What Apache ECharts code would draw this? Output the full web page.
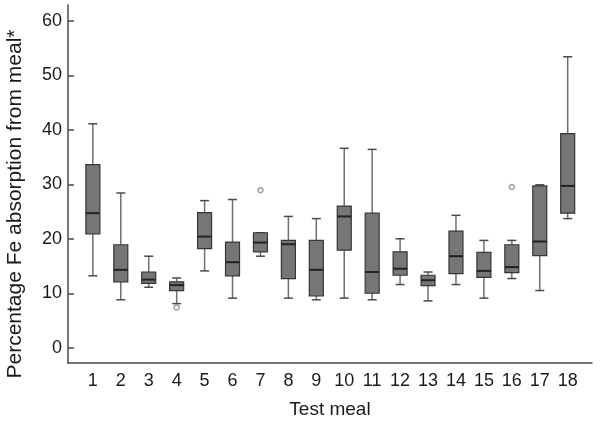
<!DOCTYPE html>
<html>
<head>
<meta charset="utf-8">
<script src="https://cdn.jsdelivr.net/npm/echarts@6/dist/echarts.min.js"></script>
<style>html,body{margin:0;padding:0;background:#fff;}#c{width:601px;height:423px;}</style>
</head>
<body>
<div id="c"></div>
<script>
var meals   = [1,2,3,4,5,6,7,8,9,10,11,12,13,14,15,16,17,18];
var mins    = [13.2, 8.8, 11.1, 8.1, 14.1, 9.1, 16.8, 9.1, 8.8, 9.1, 8.8, 11.6, 8.6, 11.6, 9.1, 12.7, 10.5, 23.7];
var q1s     = [20.9, 12.1, 11.8, 10.5, 18.2, 13.2, 17.6, 12.7, 9.5, 17.9, 10.0, 13.3, 11.4, 13.6, 12.9, 13.8, 16.9, 24.7];
var medians = [24.7, 14.3, 12.5, 11.5, 20.4, 15.7, 19.3, 19.0, 14.3, 24.1, 13.9, 14.5, 12.4, 16.8, 14.1, 14.8, 19.5, 29.7];
var q3s     = [33.6, 18.9, 13.9, 12.1, 24.8, 19.4, 21.1, 19.7, 19.7, 26.0, 24.7, 17.6, 13.3, 21.4, 17.5, 18.9, 29.7, 39.3];
var maxs    = [41.1, 28.4, 16.8, 12.8, 27.0, 27.2, 21.1, 24.1, 23.7, 36.6, 36.4, 20.0, 13.9, 24.3, 19.7, 19.7, 29.9, 53.4];
var outlierMeals  = [4, 7, 16];
var outlierValues = [7.4, 28.9, 29.5];
var yTicks = [0, 10, 20, 30, 40, 50, 60];

var boxData = meals.map(function (m, i) { return [m, mins[i], q1s[i], medians[i], q3s[i], maxs[i]]; });
var outData = outlierMeals.map(function (m, i) { return [m, outlierValues[i]]; });

var FONT = "'Liberation Sans', Arial, sans-serif";

function renderItem(params, api) {
  var x = api.value(0);
  var pMin = api.coord([x, api.value(1)]);
  var pQ1 = api.coord([x, api.value(2)]);
  var pMed = api.coord([x, api.value(3)]);
  var pQ3 = api.coord([x, api.value(4)]);
  var pMax = api.coord([x, api.value(5)]);
  var hw = 7, cw = 4.5;
  var cx = pMed[0];
  var wStyle = { stroke: '#6f6f6f', lineWidth: 1.5 };
  var cStyle = { stroke: '#4a4a4a', lineWidth: 1.5 };
  return {
    type: 'group',
    children: [
      { type: 'line', shape: { x1: cx, y1: pMax[1], x2: cx, y2: pQ3[1] }, style: wStyle },
      { type: 'line', shape: { x1: cx, y1: pQ1[1], x2: cx, y2: pMin[1] }, style: wStyle },
      { type: 'line', shape: { x1: cx - cw, y1: pMax[1], x2: cx + cw, y2: pMax[1] }, style: cStyle },
      { type: 'line', shape: { x1: cx - cw, y1: pMin[1], x2: cx + cw, y2: pMin[1] }, style: cStyle },
      { type: 'rect', shape: { x: cx - hw, y: pQ3[1], width: hw * 2, height: pQ1[1] - pQ3[1] },
        style: { fill: '#767676', stroke: '#363636', lineWidth: 1.2 } },
      { type: 'line', shape: { x1: cx - hw, y1: pMed[1], x2: cx + hw, y2: pMed[1] },
        style: { stroke: '#222', lineWidth: 2 } }
    ]
  };
}

var chart = echarts.init(document.getElementById('c'), null, { renderer: 'canvas' });
chart.setOption({
  animation: false,
  backgroundColor: '#ffffff',
  grid: { left: 68, right: 9, top: 5, bottom: 60, containLabel: false, outerBoundsMode: 'none' },
  xAxis: {
    type: 'value', min: 0.11, max: 18.87,
    name: 'Test meal', nameLocation: 'middle', nameGap: 37,
    nameTextStyle: { fontFamily: FONT, fontSize: 19, color: '#1a1a1a', verticalAlign: 'top' },
    axisLine: { onZero: false, lineStyle: { color: '#4a4a4a', width: 1.5 } },
    axisTick: { show: false },
    splitLine: { show: false },
    axisLabel: { customValues: meals, fontFamily: FONT, fontSize: 18, color: '#1a1a1a', margin: 9 }
  },
  yAxis: {
    type: 'value', min: -2.8, max: 62.9,
    name: 'Percentage Fe absorption from meal*', nameLocation: 'middle', nameGap: 42, nameRotate: 90,
    nameTextStyle: { fontFamily: FONT, fontSize: 21, color: '#1a1a1a', padding: [0, 40, 0, 0] },
    axisLine: { show: true, lineStyle: { color: '#4a4a4a', width: 1.5 } },
    axisTick: { show: true, inside: true, length: 6, customValues: yTicks, lineStyle: { color: '#4a4a4a', width: 1.5 } },
    splitLine: { show: false },
    axisLabel: { customValues: yTicks, fontFamily: FONT, fontSize: 18, color: '#1a1a1a', margin: 6 }
  },
  series: [
    {
      type: 'custom', renderItem: renderItem, data: boxData,
      encode: { x: 0, y: [1, 2, 3, 4, 5] }
    },
    {
      type: 'scatter', data: outData, symbol: 'circle', symbolSize: 5,
      itemStyle: { color: '#ffffff', borderColor: '#8a8a8a', borderWidth: 1.5 }
    }
  ]
});
</script>
</body>
</html>
